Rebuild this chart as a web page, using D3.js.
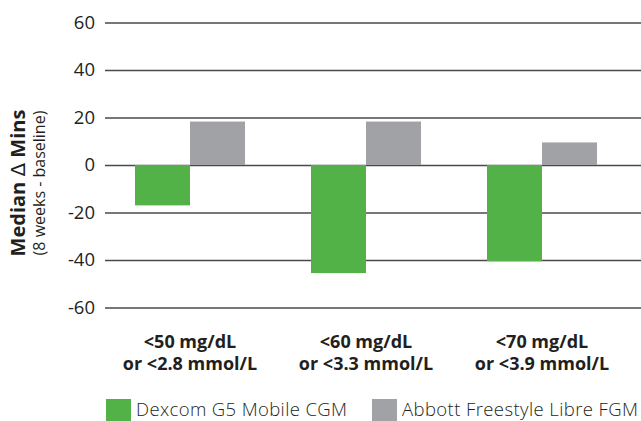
<!DOCTYPE html>
<html>
<head>
<meta charset="utf-8">
<script src="https://cdn.jsdelivr.net/npm/d3@7"></script>
<style>
  body { margin: 0; background: #fff; }
  text { font-family: "Open Sans", Lato, sans-serif; fill: #231f20; }
</style>
</head>
<body>
<svg id="chart" width="641" height="421"></svg>
<script>
var categories = ["<50 mg/dL|or <2.8 mmol/L", "<60 mg/dL|or <3.3 mmol/L", "<70 mg/dL|or <3.9 mmol/L"],
    seriesNames = ["Dexcom G5 Mobile CGM", "Abbott Freestyle Libre FGM"],
    dexcomValues = [-17, -45.5, -40.5],
    abbottValues = [18.3, 18.3, 9.5],
    yTicks = [-60, -40, -20, 0, 20, 40, 60];

var colors = ["#52b147", "#a1a2a6"];

function plotData() {
  var svg = d3.select("#chart");

  var rows = categories.map(function(c, i) {
    return { cat: c, values: [dexcomValues[i], abbottValues[i]] };
  });

  var yScale = d3.scaleLinear().domain([-60, 60]).range([307.5, 22.5]),
      x0 = d3.scaleBand().domain(categories).range([102, 630])
        .paddingInner(0.375).paddingOuter(0.1875),
      x1 = d3.scaleBand().domain(seriesNames).range([0, x0.bandwidth()]);

  // gridlines + tick labels
  var yAxis = d3.axisLeft(yScale).tickValues(yTicks).tickSize(-536).tickPadding(10)
    .tickFormat(d3.format("d"));
  var gAxis = svg.append("g")
    .attr("transform", "translate(105,0)")
    .call(yAxis);
  gAxis.select(".domain").remove();
  gAxis.selectAll(".tick line").attr("stroke", "#4a4a4a").attr("stroke-width", 1.4);
  gAxis.selectAll(".tick text")
    .attr("font-size", 18.5)
    .attr("font-family", "Open Sans, sans-serif")
    .attr("fill", "#231f20")
    .text(function(d) { return d < 0 ? "-" + Math.abs(d) : d; });

  // bars
  svg.append("g")
    .selectAll("g")
    .data(rows)
    .enter()
    .append("g")
      .attr("transform", d => "translate(" + x0(d.cat) + ",0)")
    .selectAll("rect")
    .data(d => d.values.map((v, i) => ({ key: seriesNames[i], v: v, i: i })))
    .enter()
    .append("rect")
      .attr("x", d => x1(d.key))
      .attr("width", x1.bandwidth())
      .attr("y", d => yScale(Math.max(0, d.v)))
      .attr("height", d => Math.abs(yScale(d.v) - yScale(0)))
      .style("fill", d => colors[d.i]);

  // category labels, centred under each group
  var lbl = svg.append("g")
    .selectAll("text")
    .data(categories)
    .enter()
    .append("text")
      .attr("x", d => x0(d) + x0.bandwidth() / 2)
      .attr("y", 348)
      .attr("text-anchor", "middle")
      .attr("font-size", 18)
      .attr("font-weight", "bold");
  lbl.each(function(d) {
    var parts = d.split("|"), cx = x0(d) + x0.bandwidth() / 2;
    d3.select(this).append("tspan").attr("x", cx).attr("dy", 0).text(parts[0]);
    d3.select(this).append("tspan").attr("x", cx).attr("dy", 22).text(parts[1]);
  });

  // y title
  var yt = svg.append("g").attr("transform", "translate(0,183) rotate(-90)");
  var t1 = yt.append("text")
    .attr("x", 0).attr("y", 25)
    .attr("text-anchor", "middle")
    .attr("font-size", 20)
    .attr("font-weight", "bold");
  t1.append("tspan").text("Median  ");
  t1.append("tspan").attr("font-weight", "normal").attr("font-family", "DejaVu Sans, sans-serif").text("\u0394");
  t1.append("tspan").text("  Mins");
  yt.append("text")
    .attr("x", 0).attr("y", 45)
    .attr("text-anchor", "middle")
    .attr("font-size", 16)
    .text("(8 weeks - baseline)");

  // legend
  var legX = [106, 372],
      legW = [211, 236];
  var leg = svg.append("g")
    .selectAll("g")
    .data(seriesNames)
    .enter()
    .append("g")
      .attr("transform", (d, i) => "translate(" + legX[i] + ",399)");
  leg.append("rect")
    .attr("width", 25).attr("height", 22)
    .style("fill", (d, i) => colors[i]);
  leg.append("text")
    .attr("x", 30).attr("y", 17)
    .attr("font-size", 18.5)
    .attr("font-weight", 300)
    .attr("textLength", (d, i) => legW[i])
    .attr("lengthAdjust", "spacing")
    .text(d => d);
}

plotData();
</script>
</body>
</html>
